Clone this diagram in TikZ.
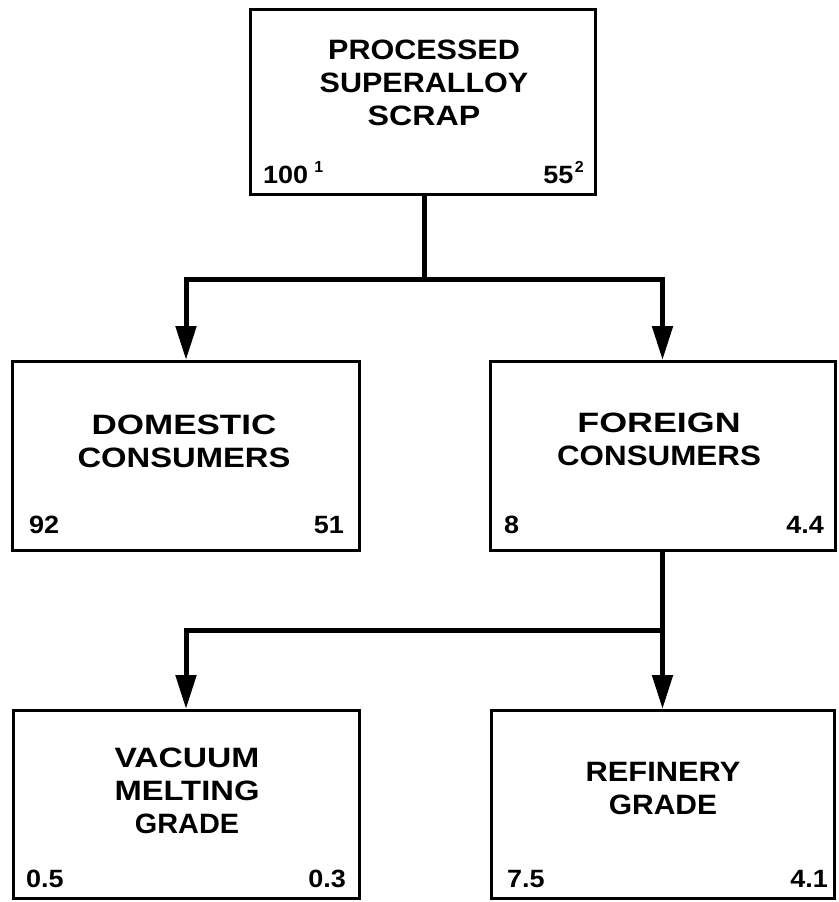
\documentclass[tikz,border=0pt]{standalone}
\usepackage{fontspec}
\setmainfont{Liberation Sans}
\usetikzlibrary{arrows.meta}
\newcommand\wline[2]{\scalebox{#1}[1]{#2}}
\newcommand\nm[1]{\scalebox{1.08}[1]{#1}}
\newcommand\supnum[2]{\kern#1\raisebox{11pt}{\fontsize{16}{16}\selectfont #2}}
\begin{document}
\begin{tikzpicture}[x=1pt,y=-1pt,
  box/.style={draw, line width=3pt, rectangle, inner sep=0pt},
  lbl/.style={font=\bfseries\fontsize{28}{33}\selectfont, align=center, inner sep=0pt, anchor=north},
  num/.style={font=\bfseries\fontsize{25}{25}\selectfont, inner sep=0pt},
  conn/.style={line width=5pt},
  arr/.style={conn, -{Triangle[length=34pt,width=20pt]}}]
\useasboundingbox (0,0) rectangle (838,902);
% boxes
\node[box, minimum width=345pt, minimum height=185pt] (top) at (423,102) {};
\node[box, minimum width=347pt, minimum height=189pt] (dom) at (186,456) {};
\node[box, minimum width=345pt, minimum height=189pt] (for) at (662.5,456) {};
\node[box, minimum width=346pt, minimum height=188pt] (vac) at (186,804.5) {};
\node[box, minimum width=343pt, minimum height=188pt] (ref) at (662.5,804.5) {};
% labels
\node[lbl] (ttop) at (424,40) {\wline{1.09}{PROCESSED}\\\wline{1.09}{SUPERALLOY}\\\wline{1.15}{SCRAP}};
\node[lbl] (tdom) at (184,415) {\wline{1.25}{DOMESTIC}\\\wline{1.17}{CONSUMERS}};
\node[lbl] (tfor) at (659,413) {\wline{1.28}{FOREIGN}\\\wline{1.12}{CONSUMERS}};
\node[lbl] (tvac) at (187,748) {\wline{1.2}{VACUUM}\\\wline{1.17}{MELTING}\\\wline{1.03}{GRADE}};
\node[lbl] (tref) at (663,762) {\wline{1.1}{REFINERY}\\\wline{1.07}{GRADE}};
% numbers
\node[num, anchor=base west] (n1) at (263,183) {\nm{100}\supnum{6pt}{1}};
\node[num, anchor=base east] (n2) at (584,183) {\nm{55}\supnum{1.5pt}{2}};
\node[num, anchor=base west] (n3) at (29,533) {\nm{92}};
\node[num, anchor=base east] (n4) at (344,533) {\nm{51}};
\node[num, anchor=base west] (n5) at (504,533) {\nm{8}};
\node[num, anchor=base east] (n6) at (824,533) {\nm{4.4}};
\node[num, anchor=base west] (n7) at (26,887) {\nm{0.5}};
\node[num, anchor=base east] (n8) at (346,887) {\nm{0.3}};
\node[num, anchor=base west] (n9) at (507,887) {\nm{7.5}};
\node[num, anchor=base east] (n10) at (828,887) {\nm{4.1}};
% connectors
\coordinate (j1) at (424,279);
\draw[conn] (top.south -| j1) -- (j1);
\draw[arr] (j1) -| (dom.north);
\draw[arr] (j1) -| (for.north);
\coordinate (j2) at (662.5,630);
\draw[conn] (for.south) -- (j2);
\draw[arr] (j2) -| (vac.north);
\draw[arr] (j2) -- (ref.north);
\end{tikzpicture}
\end{document}
